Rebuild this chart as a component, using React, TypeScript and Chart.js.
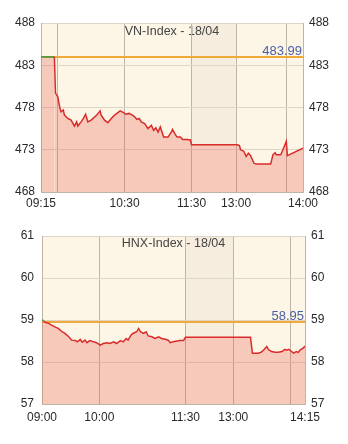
import { useEffect, useRef } from 'react';
import { Chart, registerables } from 'chart.js';

Chart.register(...registerables);

const FONT = '"Liberation Sans", Arial, Helvetica, sans-serif';

// ---- VN-Index, 18/04 ----
const VN_TITLE = 'VN-Index - 18/04';
const VN_REF = 483.99;
const VN_TIMES = [
  '09:15', '09:27', '09:28', '09:30', '09:32', '09:33', '09:35', '09:36', '09:39', '09:42',
  '09:45', '09:47', '09:48', '09:51', '09:53', '09:55', '09:57', '10:00', '10:05', '10:08',
  '10:09', '10:12', '10:15', '10:18', '10:21', '10:26', '10:29', '10:31', '10:34', '10:37',
  '10:39', '10:41', '10:43', '10:45', '10:48', '10:51', '10:54', '10:56', '10:58', '11:00',
  '11:02', '11:05', '11:09', '11:12', '11:13', '11:15', '11:17', '11:20', '11:22', '11:26',
  '11:29', '11:30', '13:00', '13:01', '13:03', '13:04', '13:07', '13:09', '13:11', '13:13',
  '13:16', '13:18', '13:31', '13:33', '13:35', '13:36', '13:40', '13:42', '13:45', '13:46',
  '14:00',
];
const VN_VALUES = [
  483.99, 483.99, 479.7, 479.3, 477.9, 477.5, 477.7, 477.1, 476.7, 476.5,
  475.8, 476.3, 475.8, 476.3, 476.7, 477.2, 476.3, 476.5, 477.1, 477.6,
  477.1, 476.5, 476.2, 476.7, 477.1, 477.6, 477.4, 477.2, 477.3, 477.1,
  476.9, 476.6, 476.7, 476.3, 476.1, 475.5, 475.9, 475.3, 475.6, 475.1,
  475.7, 474.5, 474.5, 475.1, 475.4, 474.9, 474.5, 474.5, 474.2, 474.2,
  474.15, 473.6, 473.6, 473.6, 473.5, 473.0, 472.8, 472.2, 472.6, 472.3,
  471.4, 471.3, 471.3, 472.4, 472.65, 472.4, 472.4, 473.0, 474.0, 472.3,
  473.2,
];
const VN_Y_TICKS = [468, 473, 478, 483, 488];
const VN_X_TICKS = ['09:15', '09:30', '10:30', '11:30', '13:00', '13:45', '14:00'];
const VN_X_LABELS = ['09:15', '', '10:30', '11:30', '13:00', '', '14:00'];

// ---- HNX-Index, 18/04 ----
const HNX_TITLE = 'HNX-Index - 18/04';
const HNX_REF = 58.95;
const HNX_TIMES = [
  '09:00', '09:02', '09:04', '09:07', '09:10', '09:14', '09:17', '09:21', '09:24', '09:28',
  '09:31', '09:35', '09:37', '09:40', '09:42', '09:45', '09:47', '09:50', '09:54', '09:57',
  '10:01', '10:04', '10:08', '10:11', '10:15', '10:18', '10:22', '10:25', '10:28', '10:30',
  '10:33', '10:35', '10:39', '10:41', '10:43', '10:46', '10:49', '10:51', '10:55', '10:58',
  '11:02', '11:05', '11:09', '11:12', '11:14', '11:17', '11:24', '11:28', '11:29', '11:30',
  '13:00', '13:18', '13:20', '13:26', '13:29', '13:32', '13:35', '13:37', '13:40', '13:44',
  '13:47', '13:51', '13:54', '13:56', '13:58', '14:01', '14:03', '14:06', '14:08', '14:10',
  '14:13', '14:15',
];
const HNX_VALUES = [
  59.01, 58.97, 58.94, 58.92, 58.88, 58.83, 58.80, 58.72, 58.68, 58.60,
  58.52, 58.51, 58.48, 58.54, 58.47, 58.52, 58.46, 58.51, 58.48, 58.46,
  58.40, 58.44, 58.46, 58.44, 58.48, 58.44, 58.51, 58.48, 58.56, 58.52,
  58.64, 58.68, 58.72, 58.80, 58.72, 58.68, 58.72, 58.62, 58.60, 58.56,
  58.60, 58.56, 58.54, 58.52, 58.46, 58.48, 58.51, 58.51, 58.55, 58.59,
  58.59, 58.59, 58.21, 58.21, 58.23, 58.29, 58.37, 58.29, 58.25, 58.23,
  58.23, 58.25, 58.30, 58.28, 58.30, 58.25, 58.21, 58.25, 58.23, 58.29,
  58.33, 58.38,
];
const HNX_Y_TICKS = [57, 58, 59, 60, 61];
const HNX_X_TICKS = ['09:00', '10:00', '11:30', '13:00', '14:00', '14:15'];
const HNX_X_LABELS = ['09:00', '10:00', '11:30', '13:00', '', '14:15'];

// ---- colours ----
const PLOT_BG = '#fdf6e6';
const LUNCH_BG = '#f7eddf';
const H_GRID = '#ddd6c8';
const V_GRID = '#bdb5a7';
const LINE_DOWN = '#d92b2b';
const LINE_UP = '#3d9a3d';
const AREA = 'rgba(236, 96, 86, 0.30)';
const REF_LINE = '#f0aa3c';
const REF_TEXT = '#4a5fa6';
const TICK_TEXT = '#2a2a2a';

const toMin = (t: string) => {
  const [h, m] = t.split(':').map(Number);
  return h * 60 + m;
};

// Map a clock time onto the axis: trading hours are linear, the lunch
// break (11:30 - 13:00) is squeezed into a shorter band.
const makeAxis = (open: string, lunchUnits: number) => {
  const o = toMin(open);
  const am = toMin('11:30');
  const pm = toMin('13:00');
  return (t: string) => {
    const m = toMin(t);
    if (m <= am) return m - o;
    if (m >= pm) return am - o + lunchUnits + (m - pm);
    return am - o + ((m - am) * lunchUnits) / (pm - am);
  };
};

const sessionPlugin = {
  id: 'session',
  beforeDraw(chart: any, _args: any, opts: any) {
    const { ctx, chartArea: a, scales } = chart;
    ctx.save();
    ctx.fillStyle = PLOT_BG;
    ctx.fillRect(a.left, a.top, a.right - a.left, a.bottom - a.top);

    // lunch band, shaded only above the price line
    const pts = chart.getDatasetMeta(0).data;
    ctx.save();
    ctx.beginPath();
    ctx.moveTo(a.left, a.top);
    pts.forEach((p: any) => ctx.lineTo(p.x, p.y));
    ctx.lineTo(a.right, a.top);
    ctx.closePath();
    ctx.clip();
    const x0 = scales.x.getPixelForValue(opts.lunchFrom);
    const x1 = scales.x.getPixelForValue(opts.lunchTo);
    ctx.fillStyle = LUNCH_BG;
    ctx.fillRect(x0, a.top, x1 - x0, a.bottom - a.top);
    ctx.restore();

    ctx.fillStyle = '#444';
    ctx.font = `12.5px ${FONT}`;
    ctx.textAlign = 'center';
    ctx.textBaseline = 'middle';
    ctx.fillText(opts.title, (a.left + a.right) / 2, a.top + opts.titleDy);
    ctx.restore();
  },
  beforeDatasetsDraw(chart: any, _args: any, opts: any) {
    const { ctx, chartArea: a, scales } = chart;
    const y = scales.y.getPixelForValue(opts.ref);
    ctx.save();
    ctx.strokeStyle = REF_LINE;
    ctx.lineWidth = 2;
    ctx.beginPath();
    ctx.moveTo(a.left, y);
    ctx.lineTo(a.right, y);
    ctx.stroke();
    ctx.fillStyle = REF_TEXT;
    ctx.font = `13px ${FONT}`;
    ctx.textAlign = 'right';
    ctx.textBaseline = 'alphabetic';
    ctx.fillText(opts.ref.toFixed(2), a.right - 1, y - 2);
    ctx.restore();
  },
};

type Cfg = {
  title: string;
  ref: number;
  times: string[];
  values: number[];
  yTicks: number[];
  xTicks: string[];
  xLabels: string[];
  open: string;
  lunchUnits: number;
  span: number;
  height: number;
  padTop: number;
  leftW: number;
  rightW: number;
  xAxisH: number;
  leftPad: number;
  xPad: number;
  titleDy: number;
};

function SessionChart({ cfg, top }: { cfg: Cfg; top: number }) {
  const ref = useRef<HTMLCanvasElement>(null);

  useEffect(() => {
    const toX = makeAxis(cfg.open, cfg.lunchUnits);
    const points = cfg.times.map((t, i) => ({ x: toX(t), y: cfg.values[i] }));
    const yMin = cfg.yTicks[0];
    const yMax = cfg.yTicks[cfg.yTicks.length - 1];
    const step = cfg.yTicks[1] - cfg.yTicks[0];
    const tickFont = { family: FONT, size: 12 };

    const chart = new Chart(ref.current as HTMLCanvasElement, {
      type: 'line',
      data: {
        datasets: [
          {
            data: points,
            borderColor: LINE_DOWN,
            borderWidth: 1.5,
            backgroundColor: AREA,
            fill: 'start',
            pointRadius: 0,
            tension: 0,
            segment: {
              borderColor: (c: any) =>
                c.p0.parsed.y >= cfg.ref && c.p1.parsed.y >= cfg.ref ? LINE_UP : LINE_DOWN,
            },
          },
        ],
      },
      options: {
        responsive: false,
        animation: false,
        devicePixelRatio: 1,
        layout: { padding: { top: cfg.padTop, left: 0, right: 0, bottom: 0 } },
        plugins: {
          legend: { display: false },
          tooltip: { enabled: false },
          session: {
            title: cfg.title,
            ref: cfg.ref,
            lunchFrom: toX('11:30'),
            lunchTo: toX('13:00'),
            titleDy: cfg.titleDy,
          },
        } as any,
        scales: {
          x: {
            type: 'linear',
            min: 0,
            max: cfg.span,
            afterBuildTicks: (s: any) => {
              s.ticks = cfg.xTicks.map((t) => ({ value: toX(t) }));
            },
            afterFit: (s: any) => {
              s.height = cfg.xAxisH;
            },
            ticks: {
              autoSkip: false,
              maxRotation: 0,
              padding: cfg.xPad,
              color: TICK_TEXT,
              font: tickFont,
              callback: (_v: any, i: number) => cfg.xLabels[i],
            },
            grid: { color: V_GRID, drawTicks: false },
            border: { color: V_GRID },
          },
          y: {
            position: 'left',
            min: yMin,
            max: yMax,
            afterFit: (s: any) => {
              s.width = cfg.leftW;
            },
            ticks: { stepSize: step, padding: cfg.leftPad, color: TICK_TEXT, font: tickFont },
            grid: { color: H_GRID, drawTicks: false },
            border: { color: V_GRID },
          },
          y2: {
            position: 'right',
            min: yMin,
            max: yMax,
            afterFit: (s: any) => {
              s.width = cfg.rightW;
            },
            ticks: { stepSize: step, padding: 6, color: TICK_TEXT, font: tickFont },
            grid: { display: false, drawTicks: false },
            border: { color: V_GRID },
          },
        },
      },
      plugins: [sessionPlugin as any],
    });
    return () => chart.destroy();
  }, [cfg]);

  return (
    <canvas
      ref={ref}
      width={348}
      height={cfg.height}
      style={{ position: 'absolute', left: 0, top, width: 348, height: cfg.height }}
    />
  );
}

const VN_CFG: Cfg = {
  title: VN_TITLE,
  ref: VN_REF,
  times: VN_TIMES,
  values: VN_VALUES,
  yTicks: VN_Y_TICKS,
  xTicks: VN_X_TICKS,
  xLabels: VN_X_LABELS,
  open: '09:15',
  lunchUnits: 40,
  span: 235,
  height: 220,
  padTop: 23,
  leftW: 41,
  rightW: 45,
  xAxisH: 28,
  leftPad: 6,
  xPad: 4,
  titleDy: 9,
};

const HNX_CFG: Cfg = {
  title: HNX_TITLE,
  ref: HNX_REF,
  times: HNX_TIMES,
  values: HNX_VALUES,
  yTicks: HNX_Y_TICKS,
  xTicks: HNX_X_TICKS,
  xLabels: HNX_X_LABELS,
  open: '09:00',
  lunchUnits: 50,
  span: 275,
  height: 224,
  padTop: 16,
  leftW: 42,
  rightW: 43,
  xAxisH: 40,
  leftPad: 8,
  xPad: 6,
  titleDy: 8,
};

export default function App() {
  return (
    <div
      style={{
        position: 'fixed',
        left: 0,
        top: 0,
        width: 348,
        height: 444,
        background: '#ffffff',
        overflow: 'hidden',
      }}
    >
      <SessionChart cfg={VN_CFG} top={0} />
      <SessionChart cfg={HNX_CFG} top={220} />
    </div>
  );
}
